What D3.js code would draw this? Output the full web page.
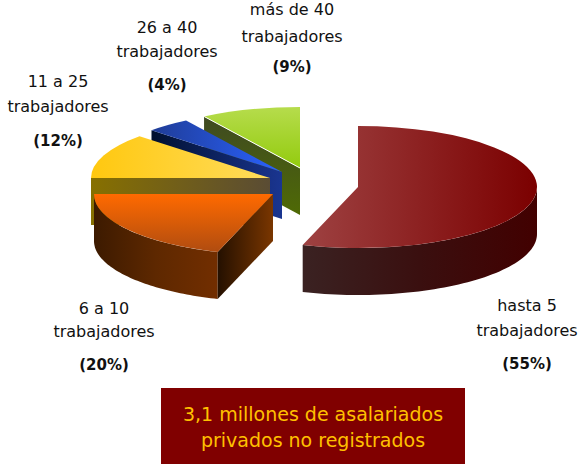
<!DOCTYPE html>
<html><head><meta charset="utf-8">
<script src="https://cdn.jsdelivr.net/npm/d3@7"></script>
<style>html,body{margin:0;padding:0;background:#fff}svg{display:block}</style>
</head><body><div id="c"></div>
<script>
const categories = ["hasta 5", "6 a 10", "11 a 25", "26 a 40", "más de 40"];
const values = [55, 20, 12, 4, 9];
const unit = "trabajadores";
const note = ["3,1 millones de asalariados", "privados no registrados"];

const W = 581, H = 464, rx = 179, ry = 61, depth = 47;
const apex = [[358,187],[273,194],[270,178],[282,172],[300,168]];
const labelAt = [[527,311,336,369],[104,314,337,370],[58,87,112,146],[167,33,57,90],[292,15,42,72]];
const fills = [
  {top:["#9e4242","#7b0000",0],wall:["#3a2222","#3a0f0f","#420000"]},
  {top:["#ff6a00","#b04c10",1],wall:["#3c1a00","#5e2800","#722e00"],cut:["#241000","#7a3600"]},
  {top:["#ffc80f","#ffdc5c",0],wall:["#877000","#6f6028","#5a4c34"],cut:["#877000","#5a4c34"]},
  {top:["#1f3c96","#2a62ff",0],wall:["#001030","#10246a","#1a3590"],cut:["#001030","#1a3590"]},
  {top:["#b6dc4c","#93cb0e",1],wall:["#3f4a22","#465a12","#4f6a05"],cut:["#3f4a22","#4f6a05"]}
];

const svg = d3.select("#c").append("svg").attr("width",W).attr("height",H)
  .style("font-family","'DejaVu Sans',sans-serif");
const defs = svg.append("defs");
function grad(id, stops, vertical){
  const g = defs.append("linearGradient").attr("id",id)
    .attr("x1",0).attr("y1",0).attr("x2",vertical?0:1).attr("y2",vertical?1:0);
  stops.forEach((c,i)=>g.append("stop").attr("offset",i/(stops.length-1)).attr("stop-color",c));
  return `url(#${id})`;
}

const arcs = d3.pie().sort(null).value(d=>d)(values);
const arcGen = d3.arc().innerRadius(0).outerRadius(rx);
const px = a => rx*Math.sin(a), py = a => -ry*Math.cos(a);
const order = [4,3,2,1,0];

order.forEach(i=>{
  const a = arcs[i], f = fills[i];
  const g = svg.append("g").attr("transform",`translate(${apex[i]})`);
  // outer wall: only the front half of the rim is visible
  const lo = Math.max(a.startAngle, Math.PI/2), hi = Math.min(a.endAngle, 3*Math.PI/2);
  if (hi > lo) {
    const angles = d3.range(0,61).map(k=>lo+(hi-lo)*k/60);
    const area = d3.area().x(px).y0(py).y1(t=>py(t)+depth);
    g.append("path").attr("d",area(angles)).attr("fill",grad("w"+i,f.wall,false));
  }
  // cut face along the slice's starting edge
  if (a.startAngle > Math.PI) {
    const s = a.startAngle;
    const line = d3.line();
    g.append("path")
      .attr("d",line([[0,0],[px(s),py(s)],[px(s),py(s)+depth],[0,depth]])+"Z")
      .attr("fill",grad("c"+i,f.cut,i===4));
  }
  // top face: a d3.arc squashed into perspective
  g.append("path").attr("d",arcGen(a)).attr("transform",`scale(1,${ry/rx})`)
    .attr("fill",grad("t"+i,f.top.slice(0,2),f.top[2]===1));
  if (i===4) {
    const s=a.startAngle;
    g.append("line").attr("x1",0).attr("y1",0).attr("x2",px(s)).attr("y2",py(s))
      .attr("stroke","#fff").attr("stroke-width",1);
  }
});

categories.forEach((c,i)=>{
  const [x,y1,y2,y3] = labelAt[i];
  const t = svg.append("g").attr("text-anchor","middle").attr("font-size",16).attr("fill","#111");
  t.append("text").attr("x",x).attr("y",y1).text(c);
  t.append("text").attr("x",x).attr("y",y2).text(unit);
  t.append("text").attr("x",x).attr("y",y3).attr("font-weight","bold").attr("font-size",15).text(`(${values[i]}%)`);
});

svg.append("rect").attr("x",161).attr("y",388).attr("width",304).attr("height",76).attr("fill","#800000");
note.forEach((s,i)=>svg.append("text").attr("x",313).attr("y",421+i*26)
  .attr("text-anchor","middle").attr("font-size",19).attr("fill","#ffc000").text(s));
</script></body></html>
